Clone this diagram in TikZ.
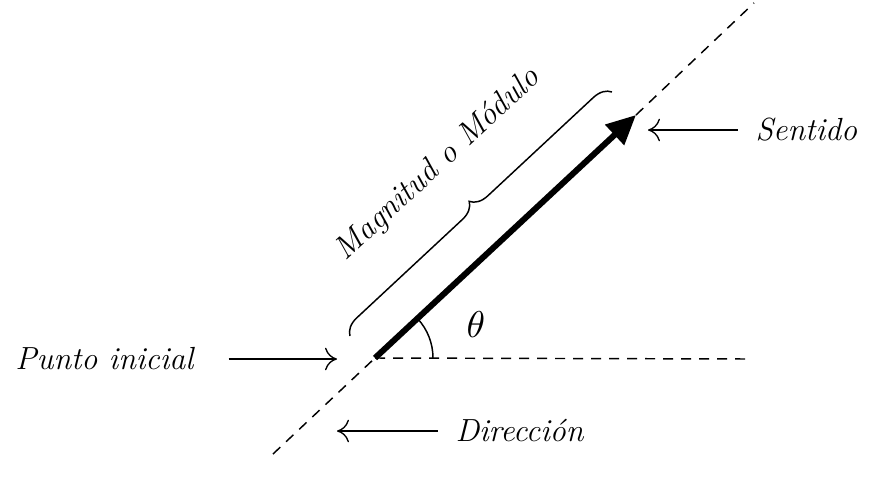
\documentclass[tikz,border=0pt]{standalone}
\usepackage{fontspec}
\usetikzlibrary{arrows.meta,decorations.pathreplacing}

\tikzset{every picture/.style={line width=0.75pt}}
\tikzset{
  vecline/.style={line width=4.5pt, -{Triangle[length=22pt,width=20pt]}},
  guide/.style={line width=1.1pt, dash pattern=on 7.5pt off 6pt},
  pointer/.style={line width=1pt, -{To[length=9pt,width=17pt]}},
  thinline/.style={line width=1.1pt},
  lbl/.style={font=\itshape\fontsize{24}{28}\selectfont, inner sep=0pt}
}

\begin{document}
\begin{tikzpicture}[x=0.75pt,y=0.75pt,yscale=-1,xscale=1]
	\path (0,0) rectangle (869,496);

	% Points
	\coordinate (O) at (375,358);
	\coordinate (tip) at (636,115);
	\coordinate (low) at (273,454);
	\coordinate (high) at (754,3);
	\coordinate (hend) at (747,359);
	\coordinate (ini) at (337,359);
	\coordinate (stip) at (648,130);
	\coordinate (dtip) at (337,431);
	\coordinate (bra) at (350,336);
	\coordinate (brb) at (612,92);

	%Dashed Lines
	\draw[guide] (low) -- (O);
	\draw[guide] (tip) -- (high);
	\draw[guide] (O) -- (hend);

	%Vector
	\draw[vecline] (O) -- (tip);

	%Angle
	\draw[thinline] (433,358) arc[start angle=0, end angle=-43, radius=58];

	%Brace
	\draw[thinline, decorate, decoration={brace, amplitude=13pt}] (bra) -- (brb);

	% Text Node
	\node[lbl, rotate=43] (mag) at (438,165) {Magnitud o Módulo};
	% Text Node
	\node[inner sep=0pt] (ang) at (476,325) {\scalebox{2.8}{$\theta$}};
	% Text Node
	\node[lbl, anchor=east] (pinicial) at (194,359) {Punto inicial};
	% Text Node
	\node[lbl, anchor=west] (sentido) at (755,130) {Sentido};
	% Text Node
	\node[lbl, anchor=west] (dir) at (455,431) {Dirección};

	%Pointers
	\draw[pointer] ([xshift=26pt]pinicial.east) -- (ini);
	\draw[pointer] ([xshift=-13pt]sentido.west) -- (stip);
	\draw[pointer] ([xshift=-13pt]dir.west) -- (dtip);

\end{tikzpicture}
\end{document}
